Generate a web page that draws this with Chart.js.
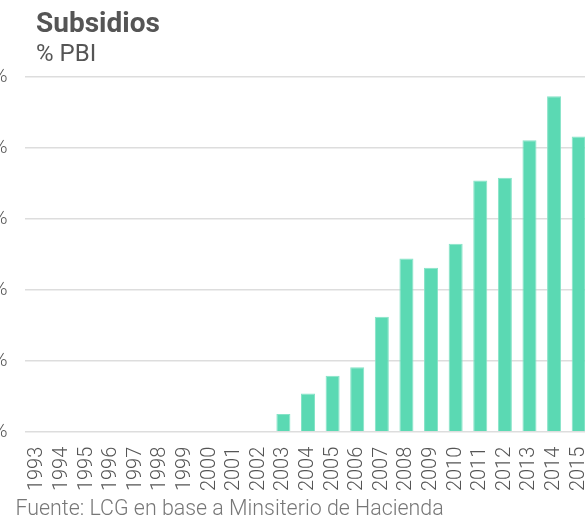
<!DOCTYPE html>
<html>
<head>
<meta charset="utf-8">
<script src="https://cdn.jsdelivr.net/npm/chart.js@4/dist/chart.umd.min.js"></script>
<style>
  html, body { margin: 0; padding: 0; width: 585px; height: 516px; overflow: hidden; background: #fff; }
  #wrap { position: relative; width: 585px; height: 516px; overflow: hidden; }
  canvas { position: absolute; left: -50px; top: 0; }
  .txt { position: absolute; font-family: Roboto, "Noto Sans", sans-serif; line-height: 1; white-space: nowrap; }
  #title { left: 36px; top: 8.5px; font-size: 28px; font-weight: 700; color: #555555; }
  #subtitle { left: 36px; top: 41px; font-size: 24px; font-weight: 400; color: #555555; }
  #source { left: 15.5px; top: 497px; font-size: 21.4px; font-weight: 300; color: #777777; }
</style>
</head>
<body>
<div id="wrap">
  <canvas id="c" width="641" height="516"></canvas>
  <div class="txt" id="title">Subsidios</div>
  <div class="txt" id="subtitle">% PBI</div>
  <div class="txt" id="source">Fuente: LCG en base a Minsiterio de Hacienda</div>
</div>
<script>
const categories = ["1993","1994","1995","1996","1997","1998","1999","2000","2001","2002","2003","2004","2005","2006","2007","2008","2009","2010","2011","2012","2013","2014","2015"];
const subsidios = [0,0,0,0,0,0,0,0,0,0,0.25,0.54,0.79,0.91,1.62,2.44,2.31,2.65,3.54,3.58,4.11,4.73,4.16];
const yTicks = [0,1,2,3,4,5];

Chart.defaults.font.family = 'Roboto, "Noto Sans", sans-serif';

new Chart(document.getElementById('c'), {
  type: 'bar',
  data: {
    labels: categories,
    datasets: [{
      data: subsidios,
      backgroundColor: '#5bd9b3',
      borderColor: '#86e3c7',
      borderWidth: 1,
      categoryPercentage: 1,
      barPercentage: 0.57
    }]
  },
  options: {
    responsive: false,
    animation: false,
    devicePixelRatio: 1,
    layout: { padding: { top: 77, right: 0, bottom: 0, left: 0 } },
    plugins: { legend: { display: false }, tooltip: { enabled: false } },
    scales: {
      x: {
        grid: { display: false, drawTicks: false },
        border: { display: false },
        ticks: {
          maxRotation: 90, minRotation: 90, padding: 15, autoSkip: false,
          color: '#555555', font: { size: 20, weight: 300 }
        },
        afterFit: (axis) => { axis.height = 84.3; axis.paddingLeft = 0; axis.paddingRight = 0; }
      },
      y: {
        min: 0, max: 5,
        afterBuildTicks: (axis) => { axis.ticks = yTicks.map(v => ({ value: v })); },
        grid: { color: '#dddddd', lineWidth: 1.5, drawTicks: false },
        border: { display: false },
        ticks: {
          padding: 17.5, color: '#555555', font: { size: 20, weight: 300 },
          callback: (v) => v + '%'
        },
        afterFit: (axis) => { axis.width = 75; axis.paddingTop = 0; axis.paddingBottom = 0; }
      }
    }
  }
});
</script>
</body>
</html>
